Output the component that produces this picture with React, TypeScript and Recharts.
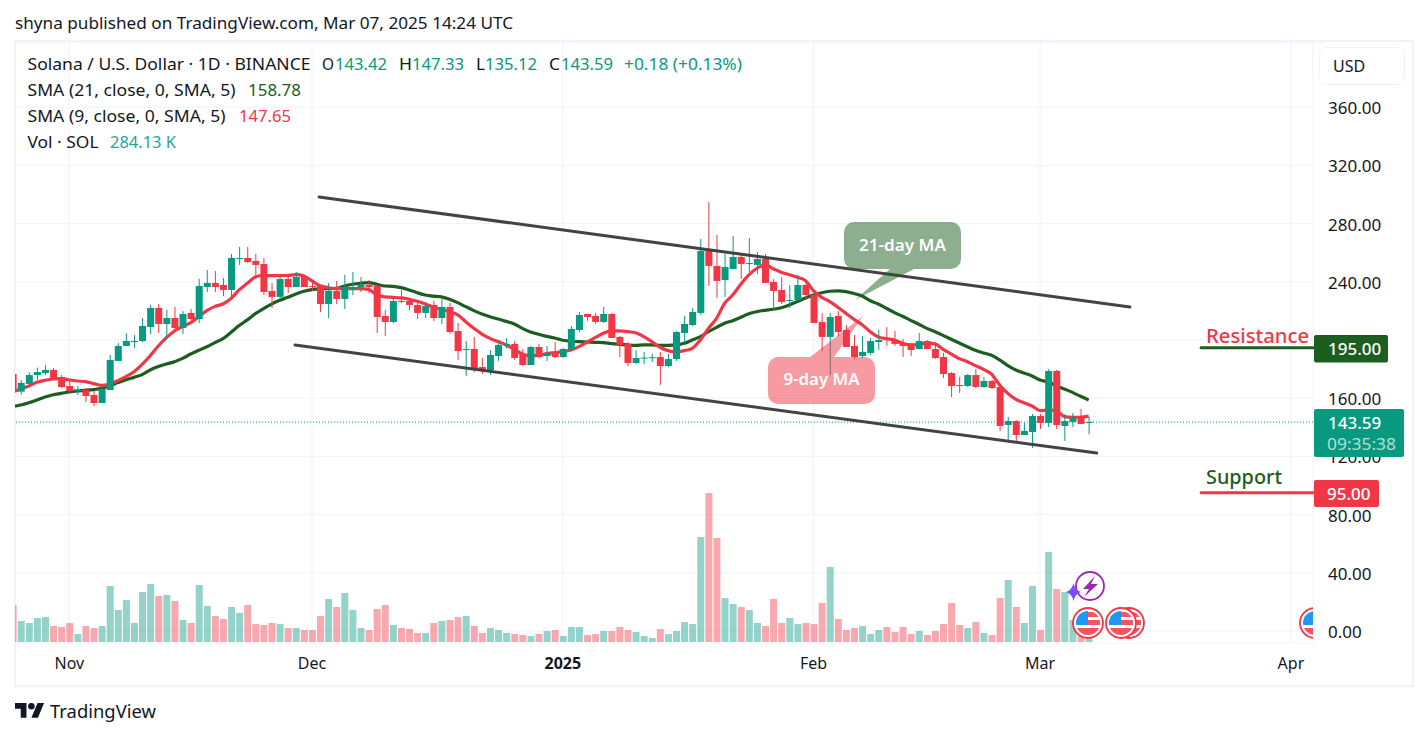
import React from "react";
import {
  ComposedChart, Bar, Line, XAxis, YAxis, CartesianGrid, ReferenceLine,
} from "recharts";

const FIRST_DAY = -7; // day numbers count from Nov 1, 2024
const opens = [176.6,164.5,169.8,175.9,177.3,179.4,174.6,
168.4,165.4,165.6,162.2,156.7,165.6,185.6,195.9,198.9,199.3,
208.9,222,211,215.1,208.3,218.6,214.4,236.4,239.2,237.8,
234.4,256,256.4,254.3,252.2,233.7,229.6,241.9,236.4,243.3,
237.1,237.1,224.7,233.7,228.2,235.1,236.4,237.8,237.1,216.5,
212.4,226.8,226.8,224.1,218.6,224.1,215.1,222.7,206.2,193.4,
193.8,181.4,179.4,189,196.6,197.3,190.4,182.8,195.2,189,
191.8,188.3,193.1,206.9,217.9,216.5,212.4,217.9,202.1,197.3,
184.2,187.4,187.6,188.3,182.1,186.9,204.8,210.3,218.6,261.2,
250.9,241.2,248.8,257.1,252.5,251.6,255.7,239.9,234.4,226.8,
227.5,237.8,230.9,212.4,202.1,216.5,206.9,195.9,189,191.1,
198.6,200.7,200,197.9,197.3,193.8,199.3,193.8,188.3,177.3,
169.1,168.4,175.9,167.7,171.8,167.7,141.6,144.3,134.7,136.8,
147.8,143,178.7,140.9,143.6,147.1,143.42];
const highs = [176.6,172.5,178,181,182.8,180.8,175.9,
172.1,168.4,167,165,168.4,189.7,197.9,204.6,203.4,215.1,
224.1,224.7,220.6,222.7,219.9,221.3,241.9,248.1,247.4,242.6,
259.1,263.9,263.9,259.1,256.4,239.2,243.3,244,246.7,244,
239.9,237.8,239.2,240.6,244.7,246.7,243.3,241.2,237.8,220.6,
230.2,234.4,228.9,226.1,226.1,226.8,228.2,225.4,211.7,199.3,
202.1,187.6,193.1,198.6,201.4,199.3,193.8,195.9,197.3,195.9,
198.6,194.5,209.6,219.2,217.9,218.6,222.7,218.6,202.8,198.6,
193.1,191.8,190.4,191.8,190.4,206.2,216.5,222,269.4,294.9,
272.2,259.1,271.5,258.5,270.1,260.5,259.1,241.9,243.3,237.8,
244.7,241.2,231.6,218.6,218.6,219.9,210.3,203.4,202.8,201.4,
206.9,208.9,206.2,200.7,197.9,204.8,200,196.6,191.1,178,
174.6,176.6,180.1,174.6,172.5,168.4,147.1,145,143,149.1,
149.1,180.1,179.4,149.1,149.8,152.6,147.33];
const lows = [164.3,162.4,169.8,172.5,175.9,173.2,167,
163.3,162.2,157.4,154.6,156.7,165.6,185.6,195.9,194.5,198.6,
204.1,204.8,200.7,206.9,204.1,213.8,211.7,233,233,230.2,
229.6,251.6,252.9,243.3,230.9,222,228.9,232.3,236.4,236.4,
233.7,219.2,215.1,224.7,221.3,230.9,233,232.3,204.8,202.8,
211.7,225.4,220.6,214.4,215.1,213.1,211,204.1,186.3,175.3,
178,176.6,175.9,185.6,194.5,186.3,182.1,182.8,187.6,185.6,
187.6,187.6,192.4,205.5,213.1,211,211.7,201.4,188.3,182.1,
183.5,183.5,184.9,169.1,181.4,185.6,197.9,209.6,217.2,237.1,
228.9,229.6,248.8,241.9,246.7,245.4,239.2,220.6,224.7,222,
226.8,227.5,211.7,192.4,175.9,202.8,195.2,186.9,187.6,189.7,
193.1,195.9,195.9,188.3,189,193.8,193.8,186.9,173.9,160.8,
163.6,167.7,167,167,166.3,137.5,131.3,130.6,134.7,125.8,
138.8,140.2,138.8,130.6,140.2,142.3,135.12];
const closes = [164.3,170.5,175.9,178,179.4,173.2,167.7,
165,165.6,161.5,156.7,166.3,186.3,195.9,199.3,199.3,209.6,
222,211,215.1,208.3,217.9,214.4,237.1,239.2,236.4,234.4,
256.4,256.4,253.6,251.6,233,229.6,241.9,236.4,243.3,236.4,
236.7,224.7,233.7,228.2,236.4,236,237.8,236.4,215.8,212.4,
226.8,226.1,224.1,218.6,223.4,215.1,222.7,205.5,192.4,193.8,
180.1,179.4,189.7,196.6,197.3,187.6,182.8,195.2,188.3,191.1,
188.3,193.8,207.6,217.2,215.8,212.4,217.9,201.4,196.6,184.2,
187.6,187.9,188.1,182.1,186.9,205.5,211,219.2,261.2,250.9,
240.6,250.2,257.1,252.2,252.9,255.7,239.2,233.7,226.1,227.5,
237.8,230.9,211.7,202.1,215.8,205.5,195.2,188.3,191.8,199.3,
200,200.2,197.3,195.9,193.1,199.3,193.8,187.6,176.6,168.4,
168.6,175.9,167.7,171.8,167,140.9,144.3,134.7,137.5,147.8,
143,178.7,141.6,144.3,146.4,142.3,143.59];
const sma9 = [164.3,166.3,168.4,170.9,172.3,173.2,173.4,
172.5,171.8,171.4,170,168.8,169.8,172.1,174.8,178.2,183.3,
189.2,195.9,201.6,206.2,209.2,211.9,216,220.2,223.1,224.7,
228.6,234.4,239,243.3,244.4,244.2,244.2,244.4,244.9,244,
240.6,237.3,236,235.3,235.3,235.3,235.3,234.8,
230.9,229.6,229.3,228.9,228,226.6,224.7,222.7,221.1,219.5,217.2,
212.6,208,204.1,201.1,198.9,196.6,193.6,190.4,189.2,189.2,
190.6,191.3,192,193.1,195.4,198.6,201.6,204.6,206.2,206.2,
205.7,205,202.3,198.9,195,192.7,191.8,192.7,194.3,200,208,214.9,225.2,
230.9,238.3,244.7,249.3,251.6,249,246.5,244.9,243.1,240.8,
233.7,229.3,226.4,222.5,218.3,214.2,210.5,205.7,202.1,200.9,
200,197.7,196.6,197,197.9,197.3,193.6,190.4,187.2,185.1,
182.4,179.8,176.6,169.1,163.3,159.2,156.9,154.6,151.4,151.9,
151.4,147.3,146.9,146.9,147.65];
const sma21 = [154.2,155.3,156.9,158.8,160.8,162.4,163.3,
164.3,165,165.4,165.9,166.8,168.6,170.7,172.7,174.3,176.2,
179.4,181.7,183.5,185.1,187.4,190.4,192.9,195.4,198.2,200.9,
205.3,209.9,213.8,218.1,221.5,224.7,227.3,229.3,231.6,233.5,
234.6,235.1,235.3,235.5,237.1,238.3,239,239.4,
238.3,237.1,236.9,236,234.4,232.5,230.9,230.2,229.6,228,225.7,
222.9,220.2,217.9,216,214.4,212.8,211,208,205.5,203.9,
202.5,201.4,199.8,199.1,198.9,198.6,198.4,198.2,197.5,197,
196.6,196.3,196.6,196.6,196.3,196.3,196.6,197.7,200,202.3,205.7,208.7,211.5,
213.3,215.6,218.1,219.5,220.4,221.1,222.2,224.1,226.4,228.9,
230.9,232.5,233.5,233.7,233.2,231.9,230.2,227,224.7,221.8,
218.8,216.3,213.5,210.8,208,205.7,203.2,200.5,197.9,195.4,
192.9,191.1,189.5,186.3,182.4,179.4,177.3,175.3,172.5,171.1,
168.6,166.3,164,161.3,158.78];
const volumesK = [2220,1260,1140,1440,1500,960,900,
1140,480,960,840,960,3360,1920,2520,1140,3000,
3480,2760,2820,2460,1320,1140,3420,2160,1560,1380,
2100,1740,2220,1080,1020,1140,1080,840,840,720,
720,1560,2580,2100,2940,1920,840,720,1980,2220,
1020,840,780,540,540,1140,1260,1320,1500,1560,
960,540,840,720,540,480,420,360,480,660,
720,360,900,900,420,480,660,660,900,720,
600,360,240,780,480,660,1200,1080,6300,8940,
6240,2640,2280,2100,1920,1140,960,2580,1140,1440,
1080,1140,1080,2340,4500,1380,720,840,960,480,
720,900,600,900,480,660,420,660,1080,2340,
1020,840,1200,540,420,2640,3720,2100,1140,3360,
720,5400,3180,3000,1320,420,284.13];

const priceTicks = [0,40,80,120,160,200,240,280,320,360];
const timeTicks = [0,30,61,92,120,151];
const timeLabels = ["Nov","Dec","2025","Feb","Mar","Apr"];
const LAST_PRICE = 143.59;
const RESISTANCE = 194.6;
const SUPPORT = 95;
const upperChannel = [{ x: 30.87, y: 298.3 }, { x: 131.1, y: 222.7 }];
const lowerChannel = [{ x: 27.9, y: 196.6 }, { x: 127, y: 122.3 }];
const levelFrom = 139.9;
const levelTo = 153.73;

const UP = "#089981";
const DOWN = "#f23645";
const DARK = "#1b5e20";
const INK = "#131722";
const GRID = "#f0f3fa";
const FONT = "'Noto Sans', sans-serif";

const rows = opens.map((o, i) => ({
  day: FIRST_DAY + i,
  open: o,
  high: highs[i],
  low: lows[i],
  close: closes[i],
  range: [lows[i], highs[i]],
  sma9: sma9[i],
  sma21: sma21[i],
  volume: volumesK[i],
}));

function Candle(props: any) {
  const { x, y, width, height, payload } = props;
  if (!payload || height == null) return null;
  const h = Math.abs(height);
  const top = height < 0 ? y + height : y;
  const perUnit = h / (payload.high - payload.low || 1);
  const yOf = (v: number) => top + (payload.high - v) * perUnit;
  const up = payload.close >= payload.open;
  const color = up ? UP : DOWN;
  const bodyTop = yOf(Math.max(payload.open, payload.close));
  const bodyBottom = yOf(Math.min(payload.open, payload.close));
  const cx = x + width / 2;
  return (
    <g>
      <line x1={cx} x2={cx} y1={top} y2={top + h} stroke={color} strokeWidth={1} />
      <rect x={x} y={bodyTop} width={width} height={Math.max(bodyBottom - bodyTop, 1)} fill={color} />
    </g>
  );
}

function VolumeBar(props: any) {
  const { x, y, width, height, payload } = props;
  const up = payload.close >= payload.open;
  return <rect x={x} y={y} width={width} height={height} fill={up ? UP : DOWN} fillOpacity={0.43} />;
}

function PriceTick(props: any) {
  const { x, y, payload } = props;
  return (
    <text x={x + 7} y={y + 7} fontFamily={FONT} fontSize={17} fill={INK}>
      {payload.value.toFixed(2)}
    </text>
  );
}

function TimeTick(props: any) {
  const { x, y, payload } = props;
  const label = timeLabels[timeTicks.indexOf(payload.value)];
  return (
    <text x={x} y={y + 18} textAnchor="middle" fontFamily={FONT} fontSize={16}
      fontWeight={label === "2025" ? 700 : 400} fill={INK}>
      {label}
    </text>
  );
}

function T(p: { x: number; cy: number; len?: number; size?: number; color?: string; weight?: number; anchor?: string; children: any; opacity?: number }) {
  const size = p.size ?? 16;
  return (
    <text x={p.x} y={p.cy + size * 0.36} fontFamily={FONT} fontSize={size} fill={p.color ?? INK}
      fontWeight={p.weight ?? 400} textAnchor={p.anchor ?? "start"} fillOpacity={p.opacity ?? 1}
      textLength={p.len} lengthAdjust={p.len ? "spacingAndGlyphs" : undefined}>
      {p.children}
    </text>
  );
}

function Flag({ cx, cy, id }: { cx: number; cy: number; id: string }) {
  return (
    <g>
      <circle cx={cx} cy={cy} r={15} fill="#fff" stroke={DOWN} strokeWidth={1.8} />
      <clipPath id={id}><circle cx={cx} cy={cy} r={12} /></clipPath>
      <g clipPath={`url(#${id})`}>
        <rect x={cx - 12} y={cy - 12} width={24} height={24} fill="#fff" />
        <rect x={cx} y={cy - 11} width={12} height={5} fill="#f7525f" />
        <rect x={cx} y={cy - 3} width={12} height={5} fill="#f7525f" />
        <rect x={cx - 12} y={cy + 5} width={24} height={7} fill="#f7525f" />
        <rect x={cx - 12} y={cy - 12} width={12} height={14} fill="#2196f3" />
      </g>
    </g>
  );
}

function Overlay() {
  return (
    <svg width={1427} height={738} style={{ position: "absolute", left: 0, top: 0, pointerEvents: "none" }}>
      <defs>
        <clipPath id="paneClip"><rect x={15} y={42} width={1298} height={601} /></clipPath>
      </defs>
      <T x={15} cy={23} len={498}>shyna published on TradingView.com, Mar 07, 2025 14:24 UTC</T>

      <T x={27.5} cy={64} len={283}>Solana / U.S. Dollar · 1D · BINANCE</T>
      <T x={322} cy={64} len={12}>O</T>
      <T x={335} cy={64} len={52} color={UP}>143.42</T>
      <T x={399} cy={64} len={13}>H</T>
      <T x={412} cy={64} len={52} color={UP}>147.33</T>
      <T x={476} cy={64} len={9}>L</T>
      <T x={485} cy={64} len={52} color={UP}>135.12</T>
      <T x={549} cy={64} len={11}>C</T>
      <T x={561} cy={64} len={52} color={UP}>143.59</T>
      <T x={624} cy={64} len={118} color={UP}>+0.18 (+0.13%)</T>

      <T x={27.5} cy={90} len={208}>SMA (21, close, 0, SMA, 5)</T>
      <T x={248} cy={90} len={53} color={DARK}>158.78</T>
      <T x={27.5} cy={116} len={198}>SMA (9, close, 0, SMA, 5)</T>
      <T x={239} cy={116} len={52} color={DOWN}>147.65</T>
      <T x={27.5} cy={142} len={71}>Vol · SOL</T>
      <T x={110} cy={142} len={66} color="#26a69a">284.13 K</T>

      <polygon points="890,269 855,300 914,269" fill={DARK} fillOpacity={0.5} />
      <rect x={844} y={222} width={117} height={47} rx={10} fill={DARK} fillOpacity={0.5} />
      <T x={902.5} cy={245} anchor="middle" color="#fff" weight={600} len={87}>21-day MA</T>

      <polygon points="810,357 863,316 834,357" fill={DOWN} fillOpacity={0.5} />
      <rect x={768} y={357} width={107} height={47} rx={10} fill={DOWN} fillOpacity={0.5} />
      <T x={821.5} cy={379} anchor="middle" color="#fff" weight={600} len={76}>9-day MA</T>

      <T x={1206} cy={336} size={20} color={DOWN} weight={500} len={103}>Resistance</T>
      <T x={1206} cy={477} size={20} color={DARK} weight={500} len={76}>Support</T>

      <rect x={1314} y={335} width={74} height={27.5} rx={2} fill={DARK} />
      <T x={1328} cy={348.5} size={17} color="#fff" weight={500}>195.00</T>
      <rect x={1314} y={409} width={90} height={48} rx={2} fill={UP} />
      <T x={1328} cy={423} size={17} color="#fff" weight={500}>143.59</T>
      <T x={1327} cy={444} size={17} color="#fff" opacity={0.7} len={69}>09:35:38</T>
      <rect x={1314} y={480} width={65} height={27} rx={2} fill={DOWN} />
      <T x={1327} cy={494} size={17} color="#fff" weight={500}>95.00</T>

      <rect x={1319.5} y={47.5} width={85} height={37} rx={6} fill="#fff" stroke={GRID} />
      <T x={1333} cy={66}>USD</T>

      <g clipPath="url(#paneClip)">
        <Flag cx={1129} cy={623} id="f3" />
        <Flag cx={1121} cy={623} id="f2" />
        <Flag cx={1088} cy={623} id="f1" />
        <Flag cx={1315} cy={623} id="f4" />
      </g>
      <circle cx={1090} cy={586} r={14} fill="#fff" stroke="#9c27b0" strokeWidth={1.8} />
      <path d="M1095 576 L1083 589 L1089 589 L1084 597 L1098 584 L1091 584 Z" fill="#9c27b0" />
      <path d="M1073.5 583 Q1075 590 1081 592 Q1075 594 1073.5 601 Q1072 594 1066 592 Q1072 590 1073.5 583 Z" fill="#7c4dff" />

      <g transform="translate(15 699.7) scale(0.82)" fill={INK}>
        <path d="M14 22H7V11H0V4h14v18zM28 22h-8l7.5-18h8L28 22z" />
        <circle cx={20} cy={8} r={4} />
      </g>
      <T x={50} cy={712} size={18} len={106}>TradingView</T>
    </svg>
  );
}

export default function App() {
  return (
    <div style={{ position: "absolute", left: 0, top: 0, width: 1427, height: 738, background: "#fff", overflow: "hidden" }}>
      <div style={{ position: "absolute", left: 14, top: 40, width: 1396, height: 643, border: `2px solid ${GRID}` }} />
      <ComposedChart
        width={1427}
        height={738}
        data={rows}
        margin={{ top: 42, right: 14, bottom: 65, left: 15 }}
        style={{ position: "absolute", left: 0, top: 0 }}
      >
        <CartesianGrid stroke={GRID} strokeWidth={1} xAxisId="time" yAxisId="price" />
        <XAxis xAxisId="time" dataKey="day" type="number" domain={[-6.712, 153.73]} allowDataOverflow
          ticks={timeTicks} height={30} axisLine={false} tickLine={false} tick={<TimeTick />} interval={0} />
        <XAxis xAxisId="volTime" dataKey="day" type="number" domain={[-6.712, 153.73]} allowDataOverflow hide />
        <YAxis yAxisId="price" orientation="right" type="number" domain={[-8.25, 404.8]} allowDataOverflow
          ticks={priceTicks} width={100} axisLine={false} tickLine={false} tick={<PriceTick />} interval={0} />
        <YAxis yAxisId="vol" type="number" domain={[-60, 36000]} allowDataOverflow hide />

        <Bar xAxisId="volTime" yAxisId="vol" dataKey="volume" barSize={7} isAnimationActive={false} shape={<VolumeBar />} zIndex={100} />
        <Line xAxisId="time" yAxisId="price" dataKey="sma21" type="monotone" stroke={DARK} strokeWidth={3.2} dot={false} activeDot={false} isAnimationActive={false} zIndex={200} />
        <Line xAxisId="time" yAxisId="price" dataKey="sma9" type="monotone" stroke={DOWN} strokeWidth={3.2} dot={false} activeDot={false} isAnimationActive={false} zIndex={210} />
        <Bar xAxisId="time" yAxisId="price" dataKey="range" barSize={7} isAnimationActive={false} shape={<Candle />} zIndex={300} />

        <ReferenceLine xAxisId="time" yAxisId="price" y={LAST_PRICE} stroke={UP} strokeWidth={1} strokeDasharray="1 2" zIndex={250} />
        <ReferenceLine xAxisId="time" yAxisId="price" segment={upperChannel} stroke="#434343" strokeWidth={3} strokeLinecap="round" ifOverflow="visible" zIndex={400} />
        <ReferenceLine xAxisId="time" yAxisId="price" segment={lowerChannel} stroke="#434343" strokeWidth={3} strokeLinecap="round" ifOverflow="visible" zIndex={400} />
        <ReferenceLine xAxisId="time" yAxisId="price" segment={[{ x: levelFrom, y: RESISTANCE }, { x: levelTo, y: RESISTANCE }]} stroke={DARK} strokeWidth={3} strokeLinecap="round" ifOverflow="visible" zIndex={400} />
        <ReferenceLine xAxisId="time" yAxisId="price" segment={[{ x: levelFrom, y: SUPPORT }, { x: levelTo, y: SUPPORT }]} stroke={DOWN} strokeWidth={3} strokeLinecap="round" ifOverflow="visible" zIndex={400} />
      </ComposedChart>
      <Overlay />
    </div>
  );
}
